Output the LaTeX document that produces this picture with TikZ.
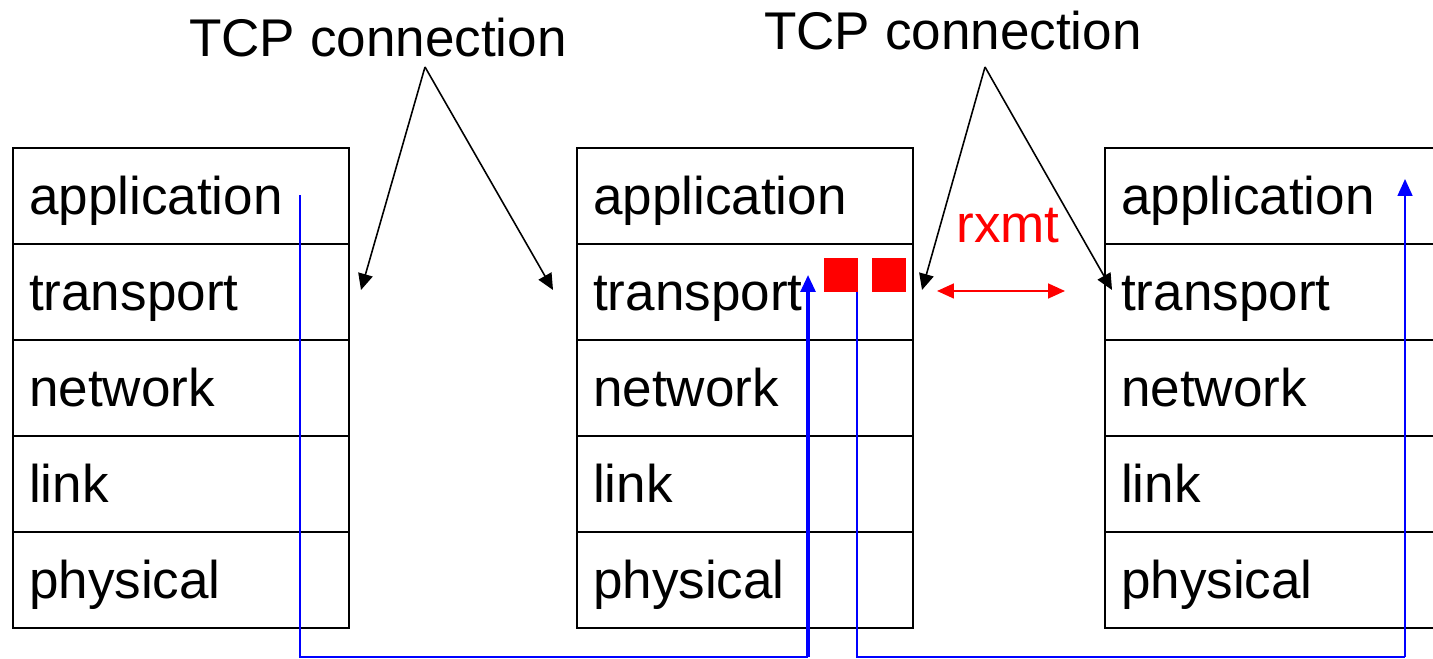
\documentclass[tikz,border=0pt]{standalone}
\usepackage{fontspec}
\setsansfont{Liberation Sans}
\usetikzlibrary{arrows.meta}
\definecolor{ink}{HTML}{000000}
\definecolor{wire}{HTML}{0000FF}
\definecolor{alarm}{HTML}{FF0000}

\begin{document}
\begin{tikzpicture}[>=Latex,line join=miter,font=\sffamily\fontsize{15.1}{18}\selectfont]
  \tikzset{
    layer/.style={draw=ink,line width=0.6pt,anchor=north west,minimum width=3.36cm,minimum height=0.96cm,
      text width=3.04cm,inner xsep=0.16cm,inner ysep=0pt,align=left,text height=0.42cm,text depth=0.06cm},
    pointer/.style={ink,line width=0.45pt,-{Triangle[length=4.6pt,width=4.2pt]}},
    path/.style={wire,line width=0.6pt},
    uparrow/.style={wire,-{Triangle[length=4.8pt,width=4.2pt]}},
    segment/.style={fill=alarm,minimum size=0.34cm,inner sep=0pt}
  }
  \clip (0,0) rectangle (14.33,6.59);

  % Protocol stacks.
  \foreach \s/\x in {A/0.12,B/5.76,C/11.04} {
    \foreach \l [count=\i] in {application,transport,network,link,physical} {
      \node[layer] (\s\i) at (\x,{5.12-(\i-1)*0.96}) {\l};
    }
  }

  % Labels.
  \node[anchor=base] (tcpA) at (3.78,6.02) {TCP connection};
  \node[anchor=base] (tcpB) at (9.53,6.09) {TCP connection};
  \node[anchor=base,text=alarm] (rxmt) at (10.08,4.16) {rxmt};

  % Pointers from the labels.
  \coordinate (apexA) at (4.25,5.92);
  \coordinate (apexB) at (9.85,5.92);
  \coordinate (tipA1) at (3.61,3.69);
  \coordinate (tipA2) at (5.53,3.69);
  \coordinate (tipB1) at (9.22,3.69);
  \coordinate (tipB2) at (11.12,3.69);
  \draw[pointer] (apexA)--(tipA1);
  \draw[pointer] (apexA)--(tipA2);
  \draw[pointer] (apexB)--(tipB1);
  \draw[pointer] (apexB)--(tipB2);

  % Queued segments and retransmission.
  \node[segment] (seg1) at (8.41,3.84) {};
  \node[segment] (seg2) at (8.89,3.84) {};
  \coordinate (rxL) at (9.37,3.68);
  \coordinate (rxR) at (10.65,3.68);
  \draw[alarm,line width=0.6pt,{Triangle[length=4.8pt,width=4.2pt]}-{Triangle[length=4.8pt,width=4.2pt]}] (rxL)--(rxR);

  % Data paths.
  \coordinate (srcA) at (3.00,4.64);
  \coordinate (dstB) at (8.08,3.84);
  \coordinate (srcB) at (8.57,3.67);
  \coordinate (dstC) at (14.05,4.80);
  \draw[path] (srcA)--(srcA|-0,0.02)--(dstB|-0,0.02);
  \draw[uparrow,line width=0.9pt] (dstB|-0,0.02)--(dstB);
  \draw[path] (srcB)--(srcB|-0,0.02)--(dstC|-0,0.02);
  \draw[uparrow,line width=0.6pt] (dstC|-0,0.02)--(dstC);
\end{tikzpicture}
\end{document}
